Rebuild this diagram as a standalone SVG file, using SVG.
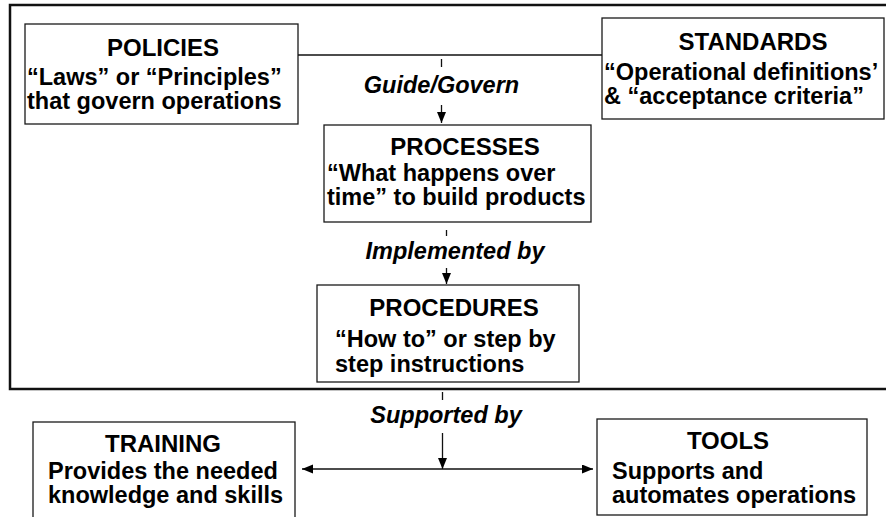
<svg xmlns="http://www.w3.org/2000/svg" width="886" height="517" viewBox="0 0 886 517">
<defs>
<style>
.box{fill:#fff;stroke:#1a1a1a;stroke-width:1.3}
.frame{fill:none;stroke:#111;stroke-width:2.5}
.t{font-family:"Liberation Sans",Arial,sans-serif;font-weight:bold;font-size:23.5px;fill:#000}
.ti{text-anchor:middle;font-size:24px}
.lbl{font-family:"Liberation Sans",Arial,sans-serif;font-weight:bold;font-style:italic;font-size:23.5px;fill:#000;text-anchor:middle}
.c{fill:none;stroke:#111;stroke-width:1.3}
</style>
<marker id="ah" markerUnits="userSpaceOnUse" markerWidth="12" markerHeight="10" refX="11" refY="4.5" orient="auto-start-reverse" viewBox="0 0 12 10">
<path d="M0,0 L11,4.5 L0,9 z" fill="#000"/>
</marker>
</defs>
<rect width="886" height="517" fill="#fff"/>
<rect class="frame" x="10" y="5" width="890" height="384"/>

<g id="policies">
<rect class="box" x="25" y="24" width="273" height="100"/>
<text class="t ti" x="163" y="56">POLICIES</text>
<text class="t" x="27" y="85">“Laws” or “Principles”</text>
<text class="t" x="27" y="109">that govern operations</text>
</g>

<g id="standards">
<rect class="box" x="602" y="18" width="282" height="101"/>
<text class="t ti" x="753" y="50">STANDARDS</text>
<text class="t" x="604" y="80">“Operational definitions’</text>
<text class="t" x="604" y="104">&amp; “acceptance criteria”</text>
</g>

<g id="processes">
<rect class="box" x="324" y="125" width="267" height="97"/>
<text class="t ti" x="465" y="155">PROCESSES</text>
<text class="t" x="327" y="181">“What happens over</text>
<text class="t" x="327" y="205">time” to build products</text>
</g>

<g id="procedures">
<rect class="box" x="317" y="285" width="262" height="97"/>
<text class="t ti" x="454" y="316">PROCEDURES</text>
<text class="t" x="335" y="347">“How to” or step by</text>
<text class="t" x="335" y="372">step instructions</text>
</g>

<g id="training">
<rect class="box" x="33" y="422" width="262" height="110"/>
<text class="t ti" x="163" y="452">TRAINING</text>
<text class="t" x="48" y="479">Provides the needed</text>
<text class="t" x="48" y="503">knowledge and skills</text>
</g>

<g id="tools">
<rect class="box" x="597" y="419" width="270" height="96"/>
<text class="t ti" x="728" y="449">TOOLS</text>
<text class="t" x="612" y="479">Supports and</text>
<text class="t" x="612" y="503">automates operations</text>
</g>

<g id="connectors">
<path class="c" d="M298 55 H602"/>
<path class="c" d="M441.5 59 V67"/>
<path class="c" d="M441.5 105 V123" marker-end="url(#ah)"/>
<path class="c" d="M446.5 230 V236"/>
<path class="c" d="M446.5 268 V284" marker-end="url(#ah)"/>
<path class="c" d="M442.5 392 V400"/>
<path class="c" d="M442.5 433 V469" marker-end="url(#ah)"/>
<path class="c" d="M302 469 H593" marker-start="url(#ah)" marker-end="url(#ah)"/>
<text class="lbl" x="441.5" y="93">Guide/Govern</text>
<text class="lbl" x="455" y="259">Implemented by</text>
<text class="lbl" x="446" y="423">Supported by</text>
</g>
</svg>
